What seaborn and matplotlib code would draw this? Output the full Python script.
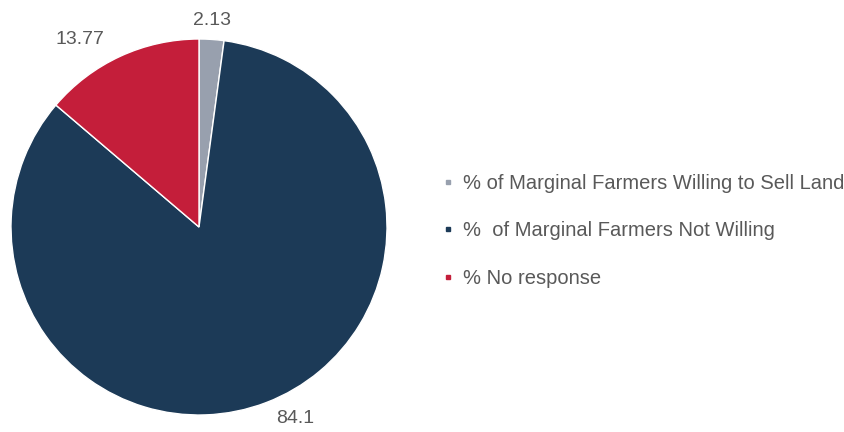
import matplotlib
matplotlib.use("Agg")
import matplotlib.pyplot as plt
import seaborn as sns
from matplotlib.lines import Line2D

categories = ["% of Marginal Farmers Willing to Sell Land",
              "%  of Marginal Farmers Not Willing",
              "% No response"]
values = [2.13, 84.1, 13.77]
value_labels = ["2.13", "84.1", "13.77"]
colors = ["#98A0AE", "#1C3A57", "#C41E3A"]

sns.set_theme(style="white")
plt.rcParams['font.family'] = ['Liberation Sans', 'DejaVu Sans']
text_color = "#595959"

fig = plt.figure(figsize=(8.45, 4.32), dpi=100)
ax = fig.add_axes([11/845, 17/432, 376/845, 376/432])
wedges, _ = ax.pie(values, colors=colors, startangle=90, counterclock=False,
                   radius=1.0, wedgeprops=dict(edgecolor="white", linewidth=1.0))
ax.set_xlim(-1, 1)
ax.set_ylim(-1, 1)
ax.set_aspect("equal")

label_pos = [(0.069, 1.10), (0.511, -1.016), (-0.633, 0.995)]
for (x, y), t in zip(label_pos, value_labels):
    ax.text(x, y, t, ha="center", va="center", fontsize=14, color=text_color, clip_on=False)

handles = [Line2D([0], [0], marker="s", linestyle="none", markersize=3.2,
                  markerfacecolor=c, markeredgecolor=c) for c in colors]
leg = fig.legend(handles, categories, loc="center left",
                 bbox_to_anchor=(434/845, 1 - 231/432), frameon=False,
                 fontsize=14.5, labelspacing=1.42, handlelength=0.6,
                 handletextpad=0.45, borderaxespad=0)
for t in leg.get_texts():
    t.set_color(text_color)

fig.savefig("out.png", dpi=100)
